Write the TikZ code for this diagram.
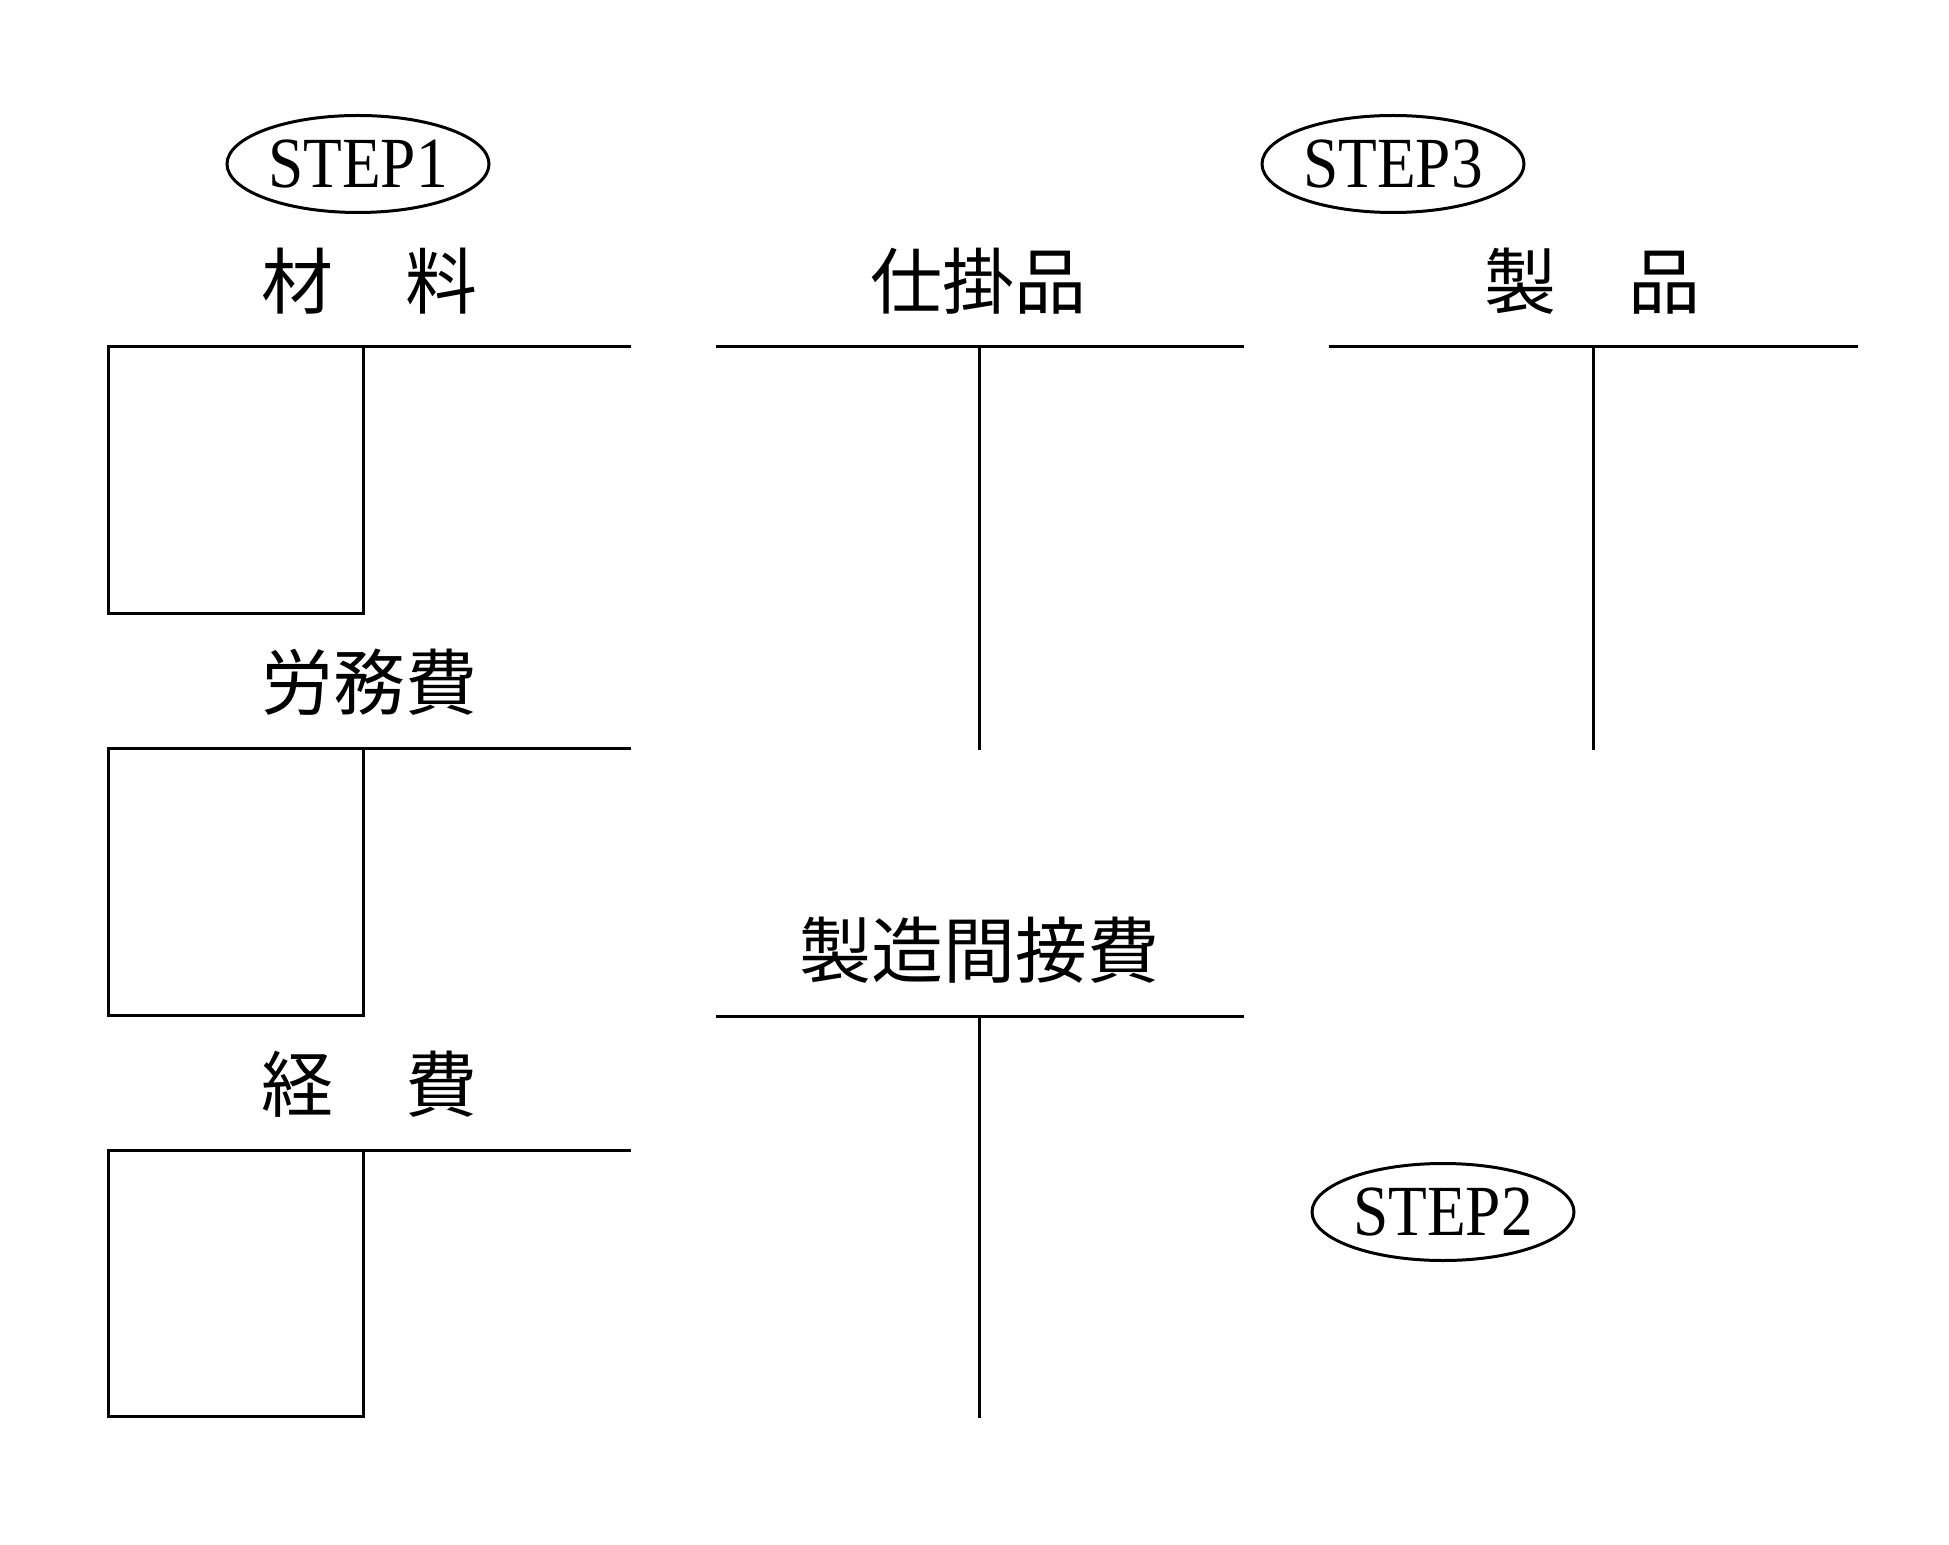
\documentclass[tikz,border=0pt]{standalone}
\usepackage{fontspec}
\usetikzlibrary{shapes.geometric}
\newfontfamily\jpfont{Noto Sans CJK JP}
\newfontfamily\stepfont[FakeStretch=0.88]{Liberation Serif}
\tikzset{
  acct/.style={line width=1.5pt, line cap=rect},
  title/.style={font=\jpfont\fontsize{36}{40}\selectfont, inner sep=0pt},
  stepoval/.style={draw, ellipse, line width=1.5pt, minimum width=131pt, minimum height=48.5pt, inner sep=0pt,
    font=\stepfont\fontsize{36}{40}\selectfont},
}
\begin{document}
\begin{tikzpicture}[x=0.5pt,y=-0.5pt]
\useasboundingbox (0,0) rectangle (1949,1545);
% STEP ovals
\node[stepoval] (s1) at (358,164) {STEP1};
\node[stepoval] (s3) at (1393,164) {STEP3};
\node[stepoval] (s2) at (1443,1212) {STEP2};
% titles
\node[title] (t1) at (369,281) {材　料};
\node[title] (t2) at (369,682) {労務費};
\node[title] (t3) at (369,1084) {経　費};
\node[title] (t4) at (978,281) {仕掛品};
\node[title] (t5) at (1592,281) {製　品};
\node[title] (t6) at (979,950) {製造間接費};
% material, labour, expense accounts
\draw[acct] (108,347) -- (629,347);
\draw[acct] (108,347) rectangle (363,614);
\draw[acct] (108,748) -- (629,748);
\draw[acct] (108,748) rectangle (363,1015);
\draw[acct] (108,1150) -- (629,1150);
\draw[acct] (108,1150) rectangle (363,1416);
% WIP
\draw[acct] (717,347) -- (1242,347);
\draw[acct] (979,347) -- (979,748);
% product
\draw[acct] (1330,347) -- (1856,347);
\draw[acct] (1593,347) -- (1593,748);
% overhead
\draw[acct] (717,1016) -- (1242,1016);
\draw[acct] (979,1016) -- (979,1416);
\end{tikzpicture}
\end{document}
